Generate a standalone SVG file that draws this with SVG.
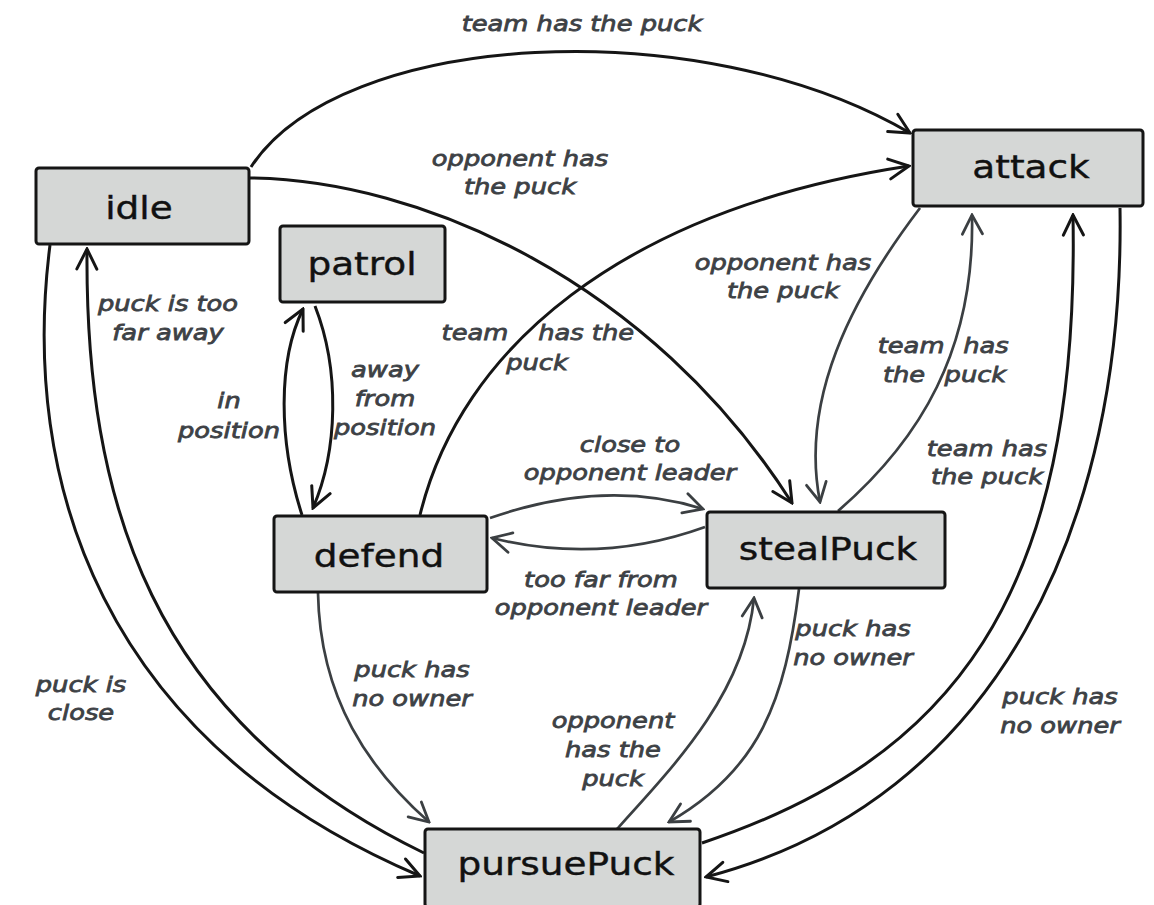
<svg xmlns="http://www.w3.org/2000/svg" width="1154" height="905" viewBox="0 0 1154 905">
<defs>
<marker id="ab" viewBox="-23 -12 25 24" refX="0" refY="0" markerWidth="25" markerHeight="24" markerUnits="userSpaceOnUse" orient="auto">
<path d="M-20,-10 L0,0 L-20,10" fill="none" stroke="#151515" stroke-width="3" stroke-linecap="round" stroke-linejoin="miter"/>
</marker>
<marker id="ag" viewBox="-23 -12 25 24" refX="0" refY="0" markerWidth="25" markerHeight="24" markerUnits="userSpaceOnUse" orient="auto">
<path d="M-19,-10 L0,0 L-19,10" fill="none" stroke="#3b3f42" stroke-width="2.8" stroke-linecap="round" stroke-linejoin="miter"/>
</marker>
</defs>
<style>
.box{fill:#d5d7d6;stroke:#151515;stroke-width:3}
.nl{font-family:"DejaVu Sans","Liberation Sans",sans-serif;font-size:32px;fill:#111;stroke:#111;stroke-width:0.4;text-anchor:middle}
.lbl{font-family:"DejaVu Sans","Liberation Sans",sans-serif;font-size:22px;font-style:italic;fill:#3d4145;stroke:#3d4145;stroke-width:0.8;text-anchor:middle}
.eb{fill:none;stroke:#151515;stroke-width:3;marker-end:url(#ab)}
.eg{fill:none;stroke:#3b3f42;stroke-width:2.7;marker-end:url(#ag)}
</style>
<rect width="1154" height="905" fill="#ffffff"/>
<g id="connectors">
<path id="e1" class="eb" d="M251,167 C340,30 700,10 910,133"/>
<path id="e2" class="eb" d="M250,178 C420,180 650,280 792,503"/>
<path id="e3" class="eb" d="M420,515 C460,350 620,210 909,166"/>
<path id="e4" class="eg" d="M920,208 C850,300 800,400 820,502"/>
<path id="e5" class="eg" d="M838,511 C920,440 975,350 972,215"/>
<path id="e6" class="eb" d="M1120,208 C1125,520 1000,800 706,877"/>
<path id="e7" class="eb" d="M702,843 C950,760 1080,600 1073,215"/>
<path id="e8" class="eb" d="M50,245 C20,480 100,740 420,876"/>
<path id="e9" class="eb" d="M424,853 C150,720 85,500 87,249"/>
<path id="e10" class="eb" d="M302,515 C278,440 278,360 303,309"/>
<path id="e11" class="eb" d="M315,306 C340,370 338,450 313,508"/>
<path id="e12" class="eg" d="M490,518 Q605,478 703,509"/>
<path id="e13" class="eg" d="M705,527 Q600,565 492,538"/>
<path id="e14" class="eg" d="M318,593 C320,700 370,770 429,822"/>
<path id="e15" class="eg" d="M617,829 C680,760 745,690 754,598"/>
<path id="e16" class="eg" d="M799,589 C785,700 760,770 669,822"/>
<text class="lbl" transform="translate(582,31) scale(1.17,1)">team has the puck</text>
<text class="lbl" transform="translate(520,166) scale(1.17,1)"><tspan x="0">opponent has</tspan><tspan x="0" dy="28">the puck</tspan></text>
<text class="lbl" transform="translate(537,340) scale(1.17,1)"><tspan x="-53">team</tspan><tspan x="42">has the</tspan><tspan x="0" dy="30">puck</tspan></text>
<text class="lbl" transform="translate(783,270) scale(1.17,1)"><tspan x="0">opponent has</tspan><tspan x="0" dy="28">the puck</tspan></text>
<text class="lbl" transform="translate(945,353) scale(1.17,1)"><tspan x="-29">team</tspan><tspan x="35">has</tspan><tspan x="-35" dy="29">the</tspan><tspan x="26">puck</tspan></text>
<text class="lbl" transform="translate(987,456) scale(1.17,1)"><tspan x="0">team has</tspan><tspan x="0" dy="28">the puck</tspan></text>
<text class="lbl" transform="translate(1060,704) scale(1.17,1)"><tspan x="0">puck has</tspan><tspan x="0" dy="29">no owner</tspan></text>
<text class="lbl" transform="translate(168,311) scale(1.17,1)"><tspan x="0">puck is too</tspan><tspan x="0" dy="29">far away</tspan></text>
<text class="lbl" transform="translate(81,692) scale(1.17,1)"><tspan x="0">puck is</tspan><tspan x="0" dy="28">close</tspan></text>
<text class="lbl" transform="translate(229,408) scale(1.17,1)"><tspan x="0">in</tspan><tspan x="0" dy="30">position</tspan></text>
<text class="lbl" transform="translate(385,377) scale(1.17,1)"><tspan x="0">away</tspan><tspan x="0" dy="29">from</tspan><tspan x="0" dy="29">position</tspan></text>
<text class="lbl" transform="translate(630,452) scale(1.17,1)"><tspan x="0">close to</tspan><tspan x="0" dy="28">opponent leader</tspan></text>
<text class="lbl" transform="translate(601,587) scale(1.17,1)"><tspan x="0">too far from</tspan><tspan x="0" dy="28">opponent leader</tspan></text>
<text class="lbl" transform="translate(412,677) scale(1.17,1)"><tspan x="0">puck has</tspan><tspan x="0" dy="29">no owner</tspan></text>
<text class="lbl" transform="translate(613,728) scale(1.17,1)"><tspan x="0">opponent</tspan><tspan x="0" dy="29">has the</tspan><tspan x="0" dy="29">puck</tspan></text>
<text class="lbl" transform="translate(853,636) scale(1.17,1)"><tspan x="0">puck has</tspan><tspan x="0" dy="29">no owner</tspan></text>
</g>
<g id="idle"><rect class="box" x="36" y="168" width="213" height="76" rx="3"/><text class="nl" transform="translate(139,219) scale(1.17,1)">idle</text></g>
<g id="patrol"><rect class="box" x="280" y="226" width="165" height="76" rx="3"/><text class="nl" transform="translate(362,275) scale(1.17,1)">patrol</text></g>
<g id="attack"><rect class="box" x="913" y="130" width="230" height="76" rx="3"/><text class="nl" transform="translate(1031,178) scale(1.17,1)">attack</text></g>
<g id="defend"><rect class="box" x="274" y="516" width="213" height="76" rx="3"/><text class="nl" transform="translate(379,567) scale(1.17,1)">defend</text></g>
<g id="stealPuck"><rect class="box" x="707" y="512" width="238" height="76" rx="3"/><text class="nl" transform="translate(828,560) scale(1.17,1)">stealPuck</text></g>
<g id="pursuePuck"><rect class="box" x="425" y="829" width="275" height="78" rx="3"/><text class="nl" transform="translate(566,875) scale(1.17,1)">pursuePuck</text></g>
</svg>
